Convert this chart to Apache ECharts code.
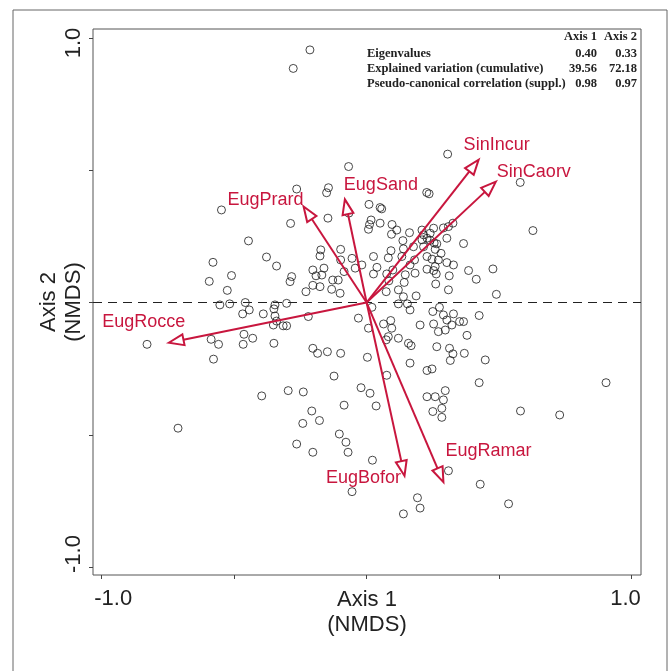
<!DOCTYPE html>
<html>
<head>
<meta charset="utf-8">
<script src="https://cdn.jsdelivr.net/npm/echarts@6/dist/echarts.min.js"></script>
<style>
  html, body { margin: 0; padding: 0; background: #ffffff; }
  #chart { width: 672px; height: 671px; }
</style>
</head>
<body>
<div id="chart"></div>
<script>
// ---- Site scores (NMDS axis 1 / axis 2) ----
const siteX = [
  -0.214,-0.277,0.306,-0.068,0.580,-0.264,-0.144,-0.151,0.227,0.236,
  -0.548,0.009,0.051,0.057,-0.146,-0.287,-0.067,0.017,0.011,0.007,
  0.051,0.096,0.094,0.114,0.162,0.209,0.326,0.309,0.290,0.253,
  0.240,0.215,0.228,0.209,0.628,-0.446,0.137,0.366,0.303,-0.173,
  -0.176,-0.098,-0.055,0.026,0.082,0.092,0.133,0.139,0.177,0.181,
  0.215,0.228,0.259,0.281,0.247,0.271,0.303,0.328,0.259,0.253,
  0.263,0.228,0.312,0.385,0.414,0.477,0.490,0.261,0.309,-0.580,
  -0.510,-0.378,-0.340,-0.594,-0.526,-0.203,-0.161,-0.098,-0.018,0.039,
  0.076,0.099,0.164,-0.191,-0.169,-0.085,-0.043,0.026,0.146,0.183,
  -0.283,-0.289,-0.203,-0.176,-0.128,-0.107,-0.229,-0.100,0.074,0.120,
  0.139,0.187,-0.458,-0.554,-0.517,-0.302,-0.346,0.120,0.154,0.164,
  -0.468,-0.443,-0.390,-0.350,-0.346,-0.340,-0.315,-0.302,-0.352,-0.587,
  -0.559,-0.463,-0.430,-0.466,-0.350,-0.829,-0.578,-0.220,-0.396,-0.712,
  -0.203,-0.185,-0.148,-0.098,-0.123,0.003,-0.296,-0.239,-0.021,0.013,
  0.036,-0.085,-0.207,-0.178,-0.241,-0.264,-0.203,-0.103,-0.078,-0.070,
  0.022,-0.055,0.192,0.202,0.139,0.309,0.429,0.536,-0.031,0.020,
  0.007,0.064,0.091,0.095,0.082,0.074,0.120,0.158,0.168,0.076,
  0.164,0.228,0.247,0.202,0.250,0.275,0.290,0.328,0.303,0.253,
  0.271,0.297,0.322,0.351,0.366,0.379,0.265,0.313,0.326,0.369,
  0.316,0.425,0.448,0.425,0.904,0.581,0.729,0.228,0.259,0.297,
  0.290,0.250,0.284,0.284,-0.132,0.084,0.142,0.240,0.255,0.265
];
const siteY = [
  0.955,0.885,0.561,0.514,0.454,0.429,0.434,0.415,0.416,0.411,
  0.350,0.371,0.359,0.354,0.319,0.299,0.338,0.312,0.295,0.277,
  0.300,0.295,0.258,0.274,0.264,0.274,0.300,0.287,0.282,0.281,
  0.262,0.256,0.243,0.237,0.272,0.233,0.234,0.223,0.243,0.199,
  0.176,0.201,0.167,0.174,0.169,0.196,0.174,0.203,0.211,0.161,
  0.211,0.174,0.201,0.186,0.164,0.161,0.151,0.142,0.136,0.121,
  0.108,0.126,0.101,0.121,0.088,0.127,0.031,0.070,0.048,0.152,
  0.102,0.172,0.138,0.080,0.046,0.123,0.130,0.161,0.142,0.133,
  0.108,0.123,0.142,0.101,0.104,0.117,0.130,0.108,0.105,0.111,
  0.098,0.079,0.065,0.060,0.085,0.085,0.041,0.035,0.041,0.048,
  0.022,0.025,0.000,-0.009,-0.005,-0.003,-0.009,-0.005,-0.005,-0.028,
  -0.043,-0.028,-0.043,-0.024,-0.051,-0.070,-0.088,-0.088,-0.085,-0.139,
  -0.158,-0.120,-0.135,-0.158,-0.154,-0.158,-0.214,-0.053,-0.353,-0.475,
  -0.173,-0.192,-0.186,-0.192,-0.278,-0.207,-0.333,-0.338,-0.322,-0.343,
  -0.391,-0.388,-0.410,-0.446,-0.457,-0.535,-0.566,-0.497,-0.528,-0.566,
  -0.596,-0.715,-0.738,-0.777,-0.799,-0.636,-0.687,-0.761,-0.059,-0.018,
  -0.097,-0.081,-0.068,-0.097,-0.129,-0.141,-0.135,-0.154,-0.163,-0.275,
  -0.229,-0.257,-0.251,-0.085,-0.034,-0.018,-0.047,-0.043,-0.066,-0.081,
  -0.110,-0.104,-0.085,-0.072,-0.072,-0.124,-0.167,-0.173,-0.194,-0.192,
  -0.219,-0.049,-0.217,-0.303,-0.303,-0.410,-0.425,-0.356,-0.356,-0.333,
  -0.368,-0.412,-0.400,-0.434,0.050,0.082,0.076,0.235,0.225,0.222
];

// ---- Species vectors ----
const speciesNames = ['EugRocce','EugPrard','EugSand','SinIncur','SinCaorv','EugBofor','EugRamar'];
const speciesX = [-0.747,-0.238,-0.082,0.423,0.488,0.143,0.290];
const speciesY = [-0.152,0.363,0.390,0.540,0.457,-0.655,-0.679];

// ---- Axes ----
const tickValues = [-1, -0.5, 0, 0.5, 1];
const labelValues = [-1, 1];
const tickLabels = { '-1': '-1.0', '1': '1.0' };

// ---- Summary table ----
const tableHeader = ['Axis 1', 'Axis 2'];
const tableRows = ['Eigenvalues', 'Explained variation (cumulative)', 'Pseudo-canonical correlation (suppl.)'];
const axis1Values = ['0.40', '39.56', '0.98'];
const axis2Values = ['0.33', '72.18', '0.97'];

// ---- styles (presentation only) ----
const RED = '#c8163e';
const INK = '#222222';
const SANS = '"Liberation Sans", Arial, sans-serif';
const SERIF = '"Liberation Serif", "Times New Roman", serif';
const labelOffsets = {
  EugRocce: [-25, -21], EugPrard: [-38, -6], EugSand: [36, -14],
  SinIncur: [18, -15], SinCaorv: [38, -10], EugBofor: [-41, 2], EugRamar: [45, -31]
};

const sites = siteX.map((x, i) => [x, siteY[i]]);
const species = speciesNames.map((n, i) => [speciesX[i], speciesY[i], n]);

const chart = echarts.init(document.getElementById('chart'), null, { renderer: 'canvas' });

const tableGraphics = [];
const tRowY = [54, 69, 84];
const TFONT = 'bold 12.5px ' + SERIF;
tableGraphics.push({ type: 'text', x: 597, y: 37, style: { text: tableHeader[0], font: TFONT, fill: INK, align: 'right', verticalAlign: 'middle' } });
tableGraphics.push({ type: 'text', x: 637, y: 37, style: { text: tableHeader[1], font: TFONT, fill: INK, align: 'right', verticalAlign: 'middle' } });
tableRows.forEach((r, i) => {
  tableGraphics.push({ type: 'text', x: 367, y: tRowY[i], style: { text: r, font: TFONT, fill: INK, align: 'left', verticalAlign: 'middle' } });
  tableGraphics.push({ type: 'text', x: 597, y: tRowY[i], style: { text: axis1Values[i], font: TFONT, fill: INK, align: 'right', verticalAlign: 'middle' } });
  tableGraphics.push({ type: 'text', x: 637, y: tRowY[i], style: { text: axis2Values[i], font: TFONT, fill: INK, align: 'right', verticalAlign: 'middle' } });
});

const option = {
  backgroundColor: '#ffffff',
  animation: false,
  grid: { left: 93, top: 29, width: 548, height: 546, show: true, borderColor: '#555', borderWidth: 1, backgroundColor: 'transparent' },
  xAxis: {
    type: 'value', min: -1.033, max: 1.036, position: 'bottom',
    axisLine: { show: false, onZero: false },
    splitLine: { show: false },
    axisTick: { show: true, customValues: tickValues, length: 4, lineStyle: { color: '#444' } },
    axisLabel: {
      customValues: labelValues, margin: 13,
      formatter: v => (v < 0 ? '{l|' + tickLabels['-1'] + '}' : '{r|' + tickLabels['1'] + '}'),
      rich: {
        l: { fontSize: 22, fontFamily: SANS, color: INK, padding: [0, 0, 0, 23] },
        r: { fontSize: 22, fontFamily: SANS, color: INK, padding: [0, 12, 0, 0] }
      }
    },
    name: 'Axis 1\n(NMDS)', nameLocation: 'middle', nameGap: 12, nameMoveOverlap: false,
    nameTextStyle: { fontSize: 22, lineHeight: 25, fontFamily: SANS, color: INK }
  },
  yAxis: {
    type: 'value', min: -1.030, max: 1.034, position: 'left',
    axisLine: { show: false, onZero: false },
    splitLine: { show: false },
    axisTick: { show: true, customValues: tickValues, length: 4, lineStyle: { color: '#444' } },
    axisLabel: {
      customValues: labelValues, margin: 8, rotate: 90,
      formatter: v => (v < 0 ? '{l|' + tickLabels['-1'] + '}' : '{r|' + tickLabels['1'] + '}'),
      rich: {
        l: { fontSize: 22, fontFamily: SANS, color: INK, padding: [0, 0, 0, 26] },
        r: { fontSize: 22, fontFamily: SANS, color: INK, padding: [0, 10, 0, 0] }
      }
    },
    name: 'Axis 2\n(NMDS)', nameLocation: 'middle', nameGap: 7, nameRotate: 90, nameMoveOverlap: false,
    nameTextStyle: { fontSize: 22, lineHeight: 25, fontFamily: SANS, color: INK }
  },
  graphic: [
    { type: 'rect', shape: { x: 13, y: 10, width: 654, height: 690 }, style: { fill: 'none', stroke: '#666', lineWidth: 1 }, silent: true, z: 0 }
  ].concat(tableGraphics),
  series: [
    {
      type: 'scatter',
      data: sites,
      symbol: 'circle',
      symbolSize: 8,
      itemStyle: { color: 'rgba(0,0,0,0)', borderColor: '#1a1a1a', borderWidth: 1 },
      silent: true,
      z: 2,
      markLine: {
        silent: true, symbol: 'none', animation: false,
        label: { show: false },
        lineStyle: { type: [9, 6], color: '#222', width: 1.2 },
        data: [{ yAxis: 0 }]
      }
    },
    {
      type: 'custom',
      data: species,
      z: 5,
      silent: true,
      renderItem: function (params, api) {
        const o = api.coord([0, 0]);
        const t = api.coord([api.value(0), api.value(1)]);
        const name = speciesNames[params.dataIndex];
        const dx = t[0] - o[0], dy = t[1] - o[1];
        const len = Math.sqrt(dx * dx + dy * dy);
        const ux = dx / len, uy = dy / len;
        const L = 15, W = 5.5;
        const bx = t[0] - ux * L, by = t[1] - uy * L;
        const px = -uy, py = ux;
        const off = labelOffsets[name];
        return {
          type: 'group',
          children: [
            { type: 'line', shape: { x1: o[0], y1: o[1], x2: bx, y2: by }, style: { stroke: RED, lineWidth: 2 } },
            { type: 'polygon', shape: { points: [[t[0], t[1]], [bx + px * W, by + py * W], [bx - px * W, by - py * W]] }, style: { fill: '#ffffff', stroke: RED, lineWidth: 2, lineJoin: 'miter' } },
            { type: 'text', style: { text: name, x: t[0] + off[0], y: t[1] + off[1], align: 'center', verticalAlign: 'middle', font: '18px ' + SANS, fill: RED } }
          ]
        };
      }
    }
  ]
};
chart.setOption(option);
</script>
</body>
</html>
